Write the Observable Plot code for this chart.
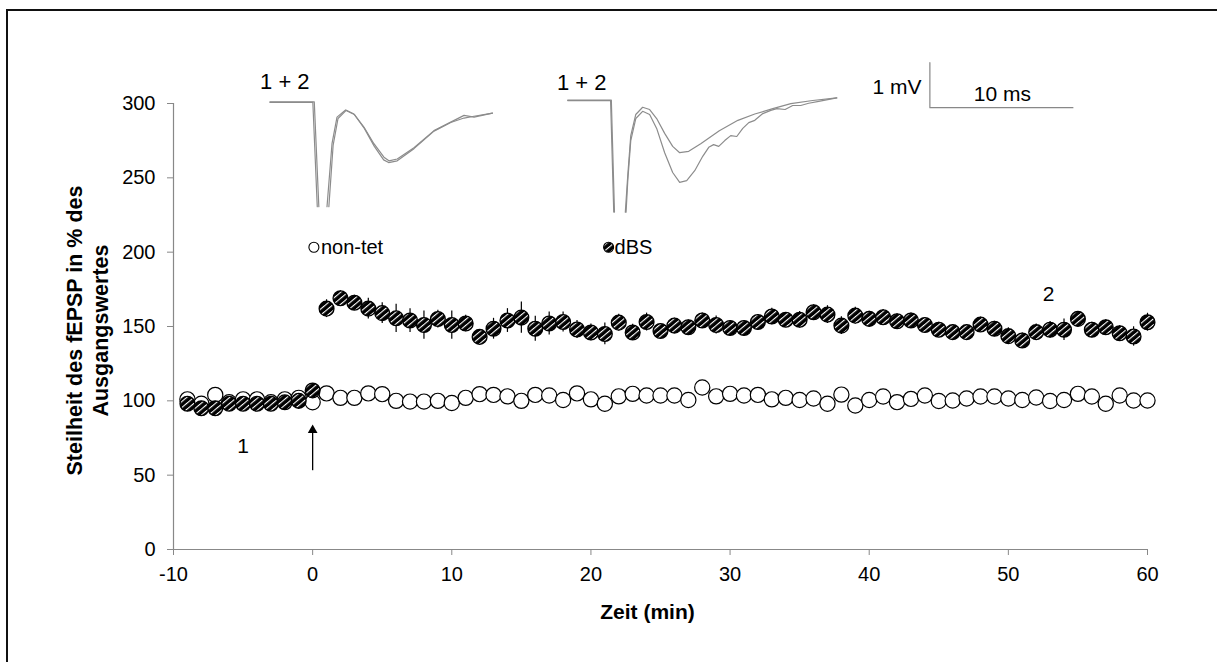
<!DOCTYPE html>
<html><head><meta charset="utf-8">
<script src="https://cdn.jsdelivr.net/npm/d3@7"></script>
<script src="https://cdn.jsdelivr.net/npm/@observablehq/plot@0.6"></script>
<style>
html,body{margin:0;padding:0;background:#fff;}
#wrap{position:relative;width:1217px;height:662px;overflow:hidden;}
#frame{position:absolute;left:6px;top:9px;width:1400px;height:800px;border-left:2px solid #111;border-top:2px solid #111;}
#chart{position:absolute;left:0;top:0;}
</style></head><body>
<div id="wrap"><div id="frame"></div><div id="chart"></div></div>
<script>
// ---- data ----
const times = [-9,-8,-7,-6,-5,-4,-3,-2,-1,0,1,2,3,4,5,6,7,8,9,10,11,12,13,14,15,16,17,18,19,20,21,22,23,24,25,26,27,28,29,30,31,32,33,34,35,36,37,38,39,40,41,42,43,44,45,46,47,48,49,50,51,52,53,54,55,56,57,58,59,60];
const nonTet = [101,98,104,99,101,101,99,101,102,99,
  105,102,102,105,104.5,100,99.5,99.5,100,98.5,102,104.5,104,
  103,100,104,103.6,100.6,105,101,98,103,104.7,103.6,103.6,103.6,100.6,109,103,104.7,103.6,104,101,102,100.6,101.6,
  98,104.2,96.9,100.6,102.9,99.1,101.3,103.6,99.9,100.2,101.6,102.9,102.9,101.6,100.6,102.2,99.9,100.6,104.7,102.9,98,103.6,100.2,100.2];
const dbs = [98,95,95,98,98,98,98,99,100,107,
  162,169,166,162,159,155.5,154,151,155,151,152,143,148.5,
  154,156,148.5,152,153,148,146,145,152.6,146,153,147,150.6,149.5,154,151,149,149,153,156.7,154.5,154.5,159.6,
  158,150.6,157.3,155.1,156.2,153.5,154,151,147.8,146.2,146.2,151.3,148.5,143.5,140.6,146.2,147.8,147.8,155.1,147.8,149.5,145.5,143.3,152.9];
const dbsErr = [2,2,2,2,2,2,2,2,2,2.5,
  6,5,5,7,7,9.5,8,9.5,6,9.5,5.5,4.5,7,
  8,10.5,8.4,7.8,6.7,6,5.6,7.3,5.6,5.5,6,5,5,4.8,5,6,5,5,5,5.6,5,5.6,5,
  6,6,5.6,5.2,5.2,5,5,5,5,5,5,5,5,5.6,5,5.5,5.5,7.3,5,5,5,5,6.5,6];
const yTicks = [0,50,100,150,200,250,300];
const xTicks = [-10,0,10,20,30,40,50,60];
// example traces, [ms, mV] (null = clipped stimulus artefact)
const trace1a = [[0,0],[3.0,0],[3.31,-2.32],[null,null],[3.99,-2.32],[4.34,-0.92],[4.69,-0.33],[5.29,-0.17],[5.87,-0.26],[6.57,-0.55],[7.27,-0.92],[7.97,-1.22],[8.32,-1.30],[8.9,-1.26],[10.07,-1.01],[11.47,-0.63],[12.64,-0.44],[13.57,-0.29],[14.27,-0.33],[15.56,-0.24]];
const trace1b = [[0,0.01],[3.1,0.01],[3.42,-2.32],[null,null],[4.12,-2.32],[4.42,-0.95],[4.76,-0.36],[5.33,-0.18],[5.9,-0.27],[6.6,-0.58],[7.3,-0.98],[7.95,-1.28],[8.3,-1.34],[8.9,-1.3],[10.07,-1.03],[11.47,-0.64],[12.64,-0.45],[13.57,-0.35],[14.27,-0.31],[15.56,-0.24]];
const trace2pre = [[0,0],[3.0,0],[3.22,-2.48],[null,null],[4.03,-2.48],[4.2,-1.67],[4.41,-0.78],[4.76,-0.31],[5.24,-0.15],[5.73,-0.2],[6.22,-0.4],[6.78,-0.73],[7.34,-1.02],[7.83,-1.16],[8.46,-1.13],[9.3,-0.96],[10.6,-0.67],[11.9,-0.44],[13.08,-0.3],[14.34,-0.18],[15.6,-0.07],[17.13,0],[18.81,0.06]];
const trace2post = [[0,0.01],[3.05,0.01],[3.27,-2.48],[null,null],[4.08,-2.48],[4.2,-1.78],[4.41,-0.89],[4.76,-0.4],[5.24,-0.24],[5.73,-0.31],[6.22,-0.62],[6.78,-1.16],[7.34,-1.6],[7.83,-1.82],[8.32,-1.78],[8.88,-1.56],[9.44,-1.24],[9.86,-1.04],[10.2,-0.98],[10.56,-1.02],[10.98,-0.89],[11.4,-0.78],[11.82,-0.8],[12.24,-0.62],[12.66,-0.49],[13.08,-0.44],[13.64,-0.29],[14.2,-0.22],[14.62,-0.18],[15.2,-0.2],[15.73,-0.11],[16.29,-0.11],[16.85,-0.06],[17.55,-0.02],[18.81,0.06]];
const scaleBar = [[0,1],[0,0],[10,0]]; // 1 mV, 10 ms

// ---- build tables ----
const openRows = times.map((t,i)=>({t, v: nonTet[i]}));
const dbsRows = times.map((t,i)=>({t, v: dbs[i], e: dbsErr[i]}));
const msToMin = 1.028, mVToPct = 30.26;
function place(arr, ox, oy, id){
  return arr.map(([ms,mv])=>({id, x: ms==null?NaN:ox+ms*msToMin, y: mv==null?NaN:oy+mv*mVToPct}));
}
const traces = [
  ...place(trace1a,-3.07,300.8,"1a"), ...place(trace1b,-3.07,300.8,"1b"),
  ...place(trace2pre,18.33,302.0,"2a"), ...place(trace2post,18.33,302.0,"2b")
];
const bar = place(scaleBar,44.36,297.2,"bar");

function hatchDefs(){
  const defs = d3.create("svg:defs");
  const p = defs.append("pattern").attr("id","hatch").attr("patternUnits","userSpaceOnUse")
    .attr("width",4.6).attr("height",4.6).attr("patternTransform","rotate(-40)");
  p.append("rect").attr("width",4.6).attr("height",4.6).attr("fill","#000");
  p.append("rect").attr("width",4.6).attr("height",1.1).attr("fill","#fff");
  return defs.node();
}
const fmt = d => String(d);

const chart = Plot.plot({
  width: 1217, height: 662,
  marginLeft: 173, marginRight: 70, marginTop: 103, marginBottom: 113,
  style: {fontFamily: "'Liberation Sans', Arial, sans-serif", fontSize: "20px", background: "transparent", color: "#000"},
  x: {domain: [-10, 60]},
  y: {domain: [0, 300]},
  marks: [
    hatchDefs,
    Plot.ruleY([0], {x1: -10, x2: 60, stroke: "#888", strokeWidth: 1.2}),
    Plot.ruleX([-10], {y1: 0, y2: 300, stroke: "#888", strokeWidth: 1.2}),
    Plot.axisY({ticks: yTicks, tickFormat: fmt, tickSize: 6, tickPadding: 12, stroke: "#888", fill: "#000", label: null, fontSize: 20}),
    Plot.axisX({ticks: xTicks, tickFormat: fmt, tickSize: 6, tickPadding: 11, stroke: "#888", fill: "#000", label: null, fontSize: 20}),
    Plot.line(traces, {x: "x", y: "y", z: "id", stroke: "#8c8c8c", strokeWidth: 1.2}),
    Plot.line(bar, {x: "x", y: "y", stroke: "#888", strokeWidth: 1.2}),
    Plot.ruleX(dbsRows, {x: "t", y1: d => d.v - d.e, y2: d => d.v + d.e, stroke: "#000", strokeWidth: 1.2}),
    Plot.dot(openRows, {x: "t", y: "v", r: 7.6, fill: "white", stroke: "black", strokeWidth: 1.2}),
    Plot.dot(dbsRows, {x: "t", y: "v", r: 7.4, fill: "url(#hatch)", stroke: "black", strokeWidth: 1.3}),
    // legend
    Plot.dot([{x: 0.09, y: 203.3}], {x: "x", y: "y", r: 5, fill: "white", stroke: "black", strokeWidth: 1.1}),
    Plot.text([{x: 0.09, y: 203.3}], {x: "x", y: "y", text: () => "non-tet", dx: 7, textAnchor: "start", fontSize: 20}),
    Plot.dot([{x: 21.27, y: 203.3}], {x: "x", y: "y", r: 5, fill: "url(#hatch)", stroke: "black", strokeWidth: 1.1}),
    Plot.text([{x: 21.27, y: 203.3}], {x: "x", y: "y", text: () => "dBS", dx: 6, textAnchor: "start", fontSize: 20}),
    // annotations
    Plot.text([{x: -2.0, y: 314.6}, {x: 19.34, y: 313.9}], {x: "x", y: "y", text: () => "1 + 2", fontSize: 22}),
    Plot.text([{x: 43.75, y: 310.7}], {x: "x", y: "y", text: () => "1 mV", textAnchor: "end", fontSize: 21}),
    Plot.text([{x: 49.57, y: 306.4}], {x: "x", y: "y", text: () => "10 ms", fontSize: 21}),
    Plot.text([{x: -5, y: 69.3}], {x: "x", y: "y", text: () => "1", fontSize: 21}),
    Plot.text([{x: 52.9, y: 171.5}], {x: "x", y: "y", text: () => "2", fontSize: 21}),
    Plot.ruleX([{x: 0}], {x: "x", y1: 53, y2: 79, stroke: "black", strokeWidth: 1.3}),
    Plot.dot([{x: 0, y: 80.3}], {x: "x", y: "y", symbol: "triangle", r: 3.6, fill: "black", stroke: "none"}),
    // axis titles
    Plot.text(["Steilheit des fEPSP in % des\nAusgangswertes"], {x: -10, y: 147.3, dx: -87, rotate: -90, textAnchor: "middle", lineAnchor: "middle", fontWeight: "bold", fontSize: 21.5, lineHeight: 1.2}),
    Plot.text(["Zeit (min)"], {frameAnchor: "bottom", textAnchor: "middle", dx: -13, dy: 69, fontWeight: "bold", fontSize: 21})
  ]
});
document.getElementById("chart").appendChild(chart);
</script>
</body></html>
